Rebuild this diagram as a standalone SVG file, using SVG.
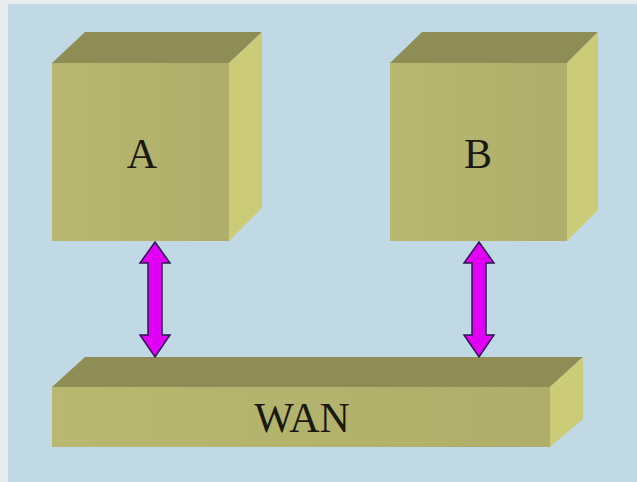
<svg xmlns="http://www.w3.org/2000/svg" width="637" height="482" viewBox="0 0 637 482">
<defs>
<style>
.front{fill:url(#fg)}
.top{fill:#8e8d56}
.side{fill:#cccb78}
.lbl{font-family:"Liberation Serif","Times New Roman",serif;font-size:42px;fill:#1a1a10;text-anchor:middle}
.arr{fill:#e100f5;stroke:#2a1850;stroke-width:1.5;stroke-linejoin:miter}
</style>
<linearGradient id="fg" x1="0" y1="0" x2="1" y2="0">
<stop offset="0" stop-color="#b8b870"/>
<stop offset="1" stop-color="#b0ae6a"/>
</linearGradient>
</defs>
<rect x="0" y="0" width="637" height="482" fill="#e9ecee"/>
<rect x="8" y="4" width="629" height="478" fill="#c1d8e5"/>
<g id="nodeA">
<polygon class="top" points="52,63 85,32 262,32 229,63"/>
<polygon class="side" points="229,63 262,32 262,208 229,241"/>
<rect class="front" x="52" y="63" width="177" height="178"/>
<text class="lbl" x="142" y="168">A</text>
</g>
<g id="nodeB">
<polygon class="top" points="390,63 422,32 598,32 567,63"/>
<polygon class="side" points="567,63 598,32 598,210 567,241"/>
<rect class="front" x="390" y="63" width="177" height="178"/>
<text class="lbl" x="478" y="168">B</text>
</g>
<g id="nodeWAN">
<polygon class="top" points="52,387 85,357 583,357 550,387"/>
<polygon class="side" points="550,387 583,357 583,419 550,447"/>
<rect class="front" x="52" y="387" width="498" height="60"/>
<text class="lbl" x="302" y="432">WAN</text>
</g>
<g id="connectors">
<polygon class="arr" points="155,242 170,263 162,263 162,335 170,335 155,357 140,335 148,335 148,263 140,263"/>
<polygon class="arr" points="479,242 494,263 486,263 486,335 494,335 479,357 464,335 472,335 472,263 464,263"/>
</g>
</svg>
